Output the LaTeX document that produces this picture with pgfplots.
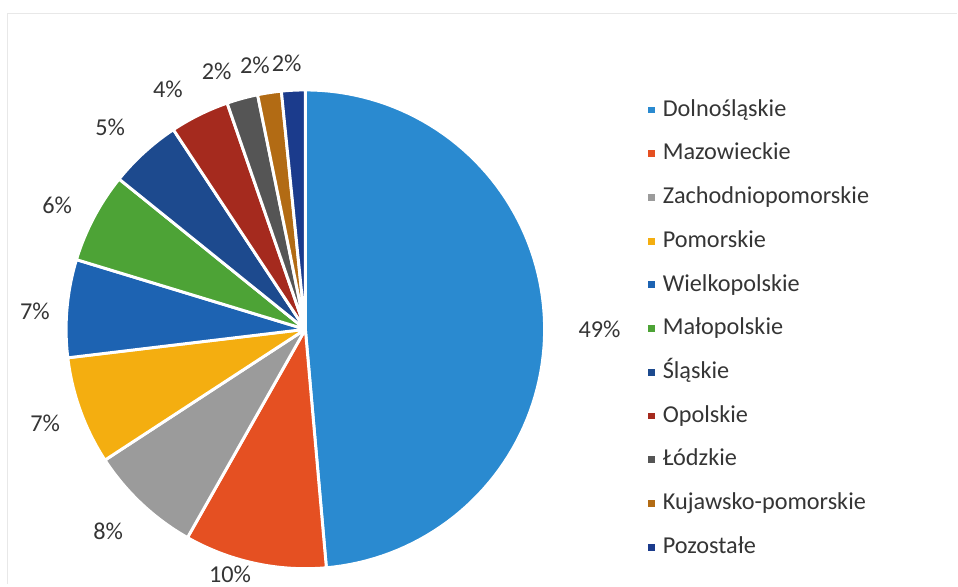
\documentclass[border=0pt]{standalone}
\usepackage{fontspec}
\setmainfont{Carlito}
\usepackage{pgfplots}
\usepackage{pgfplotstable}
\pgfplotsset{compat=1.18}

\definecolor{cDol}{HTML}{2A8AD0}
\definecolor{cMaz}{HTML}{E55022}
\definecolor{cZach}{HTML}{9B9B9B}
\definecolor{cPom}{HTML}{F4AE10}
\definecolor{cWiel}{HTML}{1D63B2}
\definecolor{cMal}{HTML}{4DA336}
\definecolor{cSl}{HTML}{1D4A8E}
\definecolor{cOp}{HTML}{A52A1E}
\definecolor{cLod}{HTML}{555555}
\definecolor{cKuj}{HTML}{B26B14}
\definecolor{cPoz}{HTML}{1B3B8C}
\definecolor{labelgray}{HTML}{353535}

% share in %, slice colour, label position (axis units, pie radius = 1)
\pgfplotstableread[col sep=comma]{
region,share,colour,lx,ly
Dolnośląskie,48.6,cDol,1.237,-0.002
Mazowieckie,9.6,cMaz,-0.317,-1.029
Zachodniopomorskie,7.6,cZach,-0.829,-0.850
Pomorskie,7.3,cPom,-1.094,-0.397
Wielkopolskie,6.6,cWiel,-1.137,0.074
Małopolskie,6.1,cMal,-1.044,0.523
Śląskie,4.9,cSl,-0.821,0.847
Opolskie,4.0,cOp,-0.578,1.010
Łódzkie,2.1,cLod,-0.373,1.083
Kujawsko-pomorskie,1.6,cKuj,-0.212,1.111
Pozostałe,1.6,cPoz,-0.079,1.119
}\piedata

\begin{document}
\begin{tikzpicture}
\begin{axis}[
    scale only axis,
    width=718.5pt, height=438pt,
    xmin=-1.284, xmax=2.742,
    ymin=-1.069, ymax=1.384,
    hide axis,
    clip=false,
    legend image code/.code={\fill[#1,draw=none] (0pt,-2.6pt) rectangle (5.2pt,2.6pt);},
    legend cell align=left,
    legend style={
        at={(axis cs:1.439,0.972)}, anchor=north west,
        draw=none, fill=none, inner sep=0pt,
        font=\fontsize{18.2}{22}\selectfont\color{labelgray},
        row sep=15.2pt, column sep=6pt,
        nodes={inner sep=0pt, text height=13.5pt, text depth=4.1pt},
    },
]
\path (rel axis cs:0,0) rectangle (rel axis cs:1,1);
\draw[gray!18, line width=0.8pt] (axis cs:-1.254,-1.069) -- (axis cs:-1.254,1.3256) -- (axis cs:2.742,1.3256);

\pgfplotstablegetrowsof{\piedata}
\pgfmathtruncatemacro\lastrow{\pgfplotsretval-1}
\def\cum{0}
\pgfplotsforeachungrouped \i in {0,...,\lastrow}{
    \pgfplotstablegetelem{\i}{share}\of\piedata \let\val\pgfplotsretval
    \pgfplotstablegetelem{\i}{colour}\of\piedata \let\col\pgfplotsretval
    \pgfplotstablegetelem{\i}{region}\of\piedata \let\reg\pgfplotsretval
    \pgfplotstablegetelem{\i}{lx}\of\piedata \let\lx\pgfplotsretval
    \pgfplotstablegetelem{\i}{ly}\of\piedata \let\ly\pgfplotsretval
    \pgfmathsetmacro\angA{90-3.6*\cum}
    \pgfmathsetmacro\angB{90-3.6*(\cum+\val)}
    \pgfmathsetmacro\cum{\cum+\val}
    \pgfmathtruncatemacro\pct{round(\val)}
    \edef\temp{%
        \noexpand\addplot[fill=\col, draw=white, line width=2.2pt, line join=round,
            domain=\angB:\angA, samples=90]
            ({1.006*cos(x)},{1.006*sin(x)}) -- (axis cs:0,0) -- cycle;
        \noexpand\addlegendentry{\reg}
        \noexpand\node[font=\noexpand\fontsize{18.2}{22}\noexpand\selectfont, text=labelgray]
            at (axis cs:\lx,\ly) {\pct\noexpand\%};
    }%
    \temp
}
\end{axis}
\end{tikzpicture}
\end{document}
